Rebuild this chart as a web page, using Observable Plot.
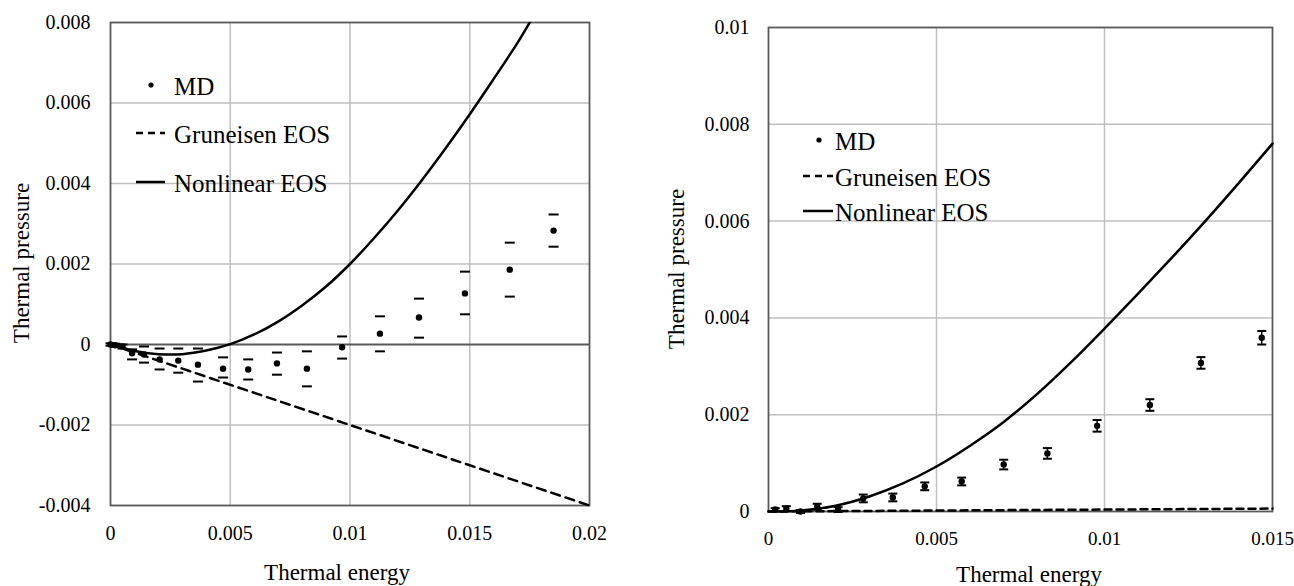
<!DOCTYPE html>
<html>
<head>
<meta charset="utf-8">
<script src="https://cdn.jsdelivr.net/npm/d3@7"></script>
<script src="https://cdn.jsdelivr.net/npm/@observablehq/plot@0.6"></script>
<style>
  html, body { margin: 0; padding: 0; background: #fff; }
  #wrap { position: relative; width: 1294px; height: 586px; overflow: hidden; }
  #wrap, #wrap svg, #wrap svg text { font-family: "Liberation Serif", "Times New Roman", Times, Tinos, "DejaVu Serif", serif !important; }
  #left, #right { position: absolute; top: 0; }
  #left { left: 0; }
  #right { left: 640px; }
  #overlay { position: absolute; left: 0; top: 0; pointer-events: none; }
</style>
</head>
<body>
<div id="wrap">
  <div id="left"></div>
  <div id="right"></div>
</div>
<script>
// ---------- Left chart data ----------
const leftXTicks = [0, 0.005, 0.01, 0.015, 0.02];
const leftYTicks = [-0.004, -0.002, 0, 0.002, 0.004, 0.006, 0.008];

const mdLeftX  = [0, 0.0002, 0.0005, 0.0009, 0.0014, 0.00205, 0.00283, 0.00365, 0.0047, 0.00575, 0.00695, 0.0082, 0.00967, 0.01125, 0.01288, 0.0148, 0.01667, 0.0185];
const mdLeftY  = [0, -0.00002, -0.00005, -0.00022, -0.00025, -0.00037, -0.0004, -0.0005, -0.0006, -0.00062, -0.00047, -0.0006, -0.00007, 0.00027, 0.00067, 0.00127, 0.00186, 0.00283];
const mdLeftHi = [0.00003, 0.00002, 0.0, -0.00012, -0.00005, -0.0001, -0.0001, -0.0001, -0.00032, -0.00037, -0.0002, -0.00017, 0.0002, 0.0007, 0.00114, 0.00181, 0.00253, 0.00323];
const mdLeftLo = [-0.00003, -0.00006, -0.0001, -0.00037, -0.00045, -0.00062, -0.0007, -0.00092, -0.00082, -0.00087, -0.00075, -0.00104, -0.00035, -0.00017, 0.00017, 0.00075, 0.00119, 0.00243];

const grunLeftX = [0, 0.02];
const grunLeftY = [0, -0.004];

const nonLeftX = [0, 0.001, 0.002, 0.003, 0.004, 0.005, 0.006, 0.007, 0.008, 0.009, 0.010, 0.011, 0.012, 0.013, 0.014, 0.015, 0.016, 0.017, 0.0176];
const nonLeftY = [0, -0.00016, -0.00024, -0.00024, -0.00015, 0.00001, 0.00025, 0.00057, 0.00097, 0.00144, 0.0020, 0.00264, 0.00333, 0.00408, 0.00488, 0.00572, 0.0066, 0.0075, 0.0081];

// ---------- Right chart data ----------
const rightXTicks = [0, 0.005, 0.01, 0.015];
const rightYTicks = [0, 0.002, 0.004, 0.006, 0.008, 0.01];

const mdRightX   = [0.0002, 0.00053, 0.00095, 0.00145, 0.00207, 0.00282, 0.0037, 0.00465, 0.00575, 0.007, 0.0083, 0.00978, 0.01135, 0.01287, 0.01468];
const mdRightY   = [0.00004, 0.00006, 0.0, 0.0001, 0.00004, 0.00027, 0.00029, 0.00052, 0.00062, 0.00097, 0.0012, 0.00177, 0.0022, 0.00307, 0.00359];
const mdRightErr = [0.00003, 0.00005, 0.00003, 0.00006, 0.00005, 0.00008, 0.00008, 0.00008, 0.00008, 0.0001, 0.00011, 0.00012, 0.00012, 0.00012, 0.00014];

const grunRightX = [0, 0.015];
const grunRightY = [0, 0.00006];

const nonRightX = [0, 0.001, 0.002, 0.003, 0.004, 0.005, 0.006, 0.007, 0.008, 0.009, 0.010, 0.011, 0.012, 0.013, 0.014, 0.015];
const nonRightY = [0, 0.00002, 0.00012, 0.00031, 0.00058, 0.00093, 0.00136, 0.00185, 0.00243, 0.00308, 0.00378, 0.0045, 0.00524, 0.006, 0.00679, 0.0076];

// ---------- helpers ----------
const zip = (xs, ys) => xs.map((x, i) => ({x, y: ys[i]}));
const fmt = d => d === 0 ? "0" : String(+d.toFixed(4));
const dashSym = { draw(ctx, size) { const r = Math.sqrt(size / Math.PI); ctx.moveTo(-r, 0); ctx.lineTo(r, 0); } };

const gridColor = "#bfbfbf";
const frameColor = "#595959";
const font = '"Liberation Serif", "Times New Roman", Times, Tinos, "DejaVu Serif", serif';

const mdLeft = mdLeftX.map((x, i) => ({x, y: mdLeftY[i], hi: mdLeftHi[i], lo: mdLeftLo[i]}));
const mdRight = mdRightX.map((x, i) => ({x, y: mdRightY[i], hi: mdRightY[i] + mdRightErr[i], lo: mdRightY[i] - mdRightErr[i]}));

const leftPlot = Plot.plot({
  width: 640, height: 586,
  marginLeft: 110, marginRight: 51, marginTop: 22, marginBottom: 81,
  style: {fontFamily: font, fontSize: "20px", color: "#000", background: "transparent", overflow: "visible"},
  x: {domain: [0, 0.02]},
  y: {domain: [-0.004, 0.008]},
  marks: [
    Plot.gridX({ticks: [0.005, 0.01, 0.015], stroke: gridColor, strokeOpacity: 1, strokeWidth: 1.5}),
    Plot.gridY({ticks: [-0.002, 0.002, 0.004, 0.006], stroke: gridColor, strokeOpacity: 1, strokeWidth: 1.5}),
    Plot.ruleY([0], {stroke: frameColor, strokeWidth: 1.8}),
    Plot.frame({stroke: frameColor, strokeWidth: 1.8}),
    Plot.axisX({ticks: leftXTicks, tickSize: 0, tickPadding: 20, tickFormat: fmt, label: null, fontSize: 20}),
    Plot.axisY({ticks: leftYTicks, tickSize: 0, tickPadding: 20, tickFormat: fmt, label: null, fontSize: 20}),
    Plot.line(zip(grunLeftX, grunLeftY), {x: "x", y: "y", stroke: "#000", strokeWidth: 2.5, strokeDasharray: "9,6"}),
    Plot.line(zip(nonLeftX, nonLeftY), {x: "x", y: "y", stroke: "#000", strokeWidth: 2.5, curve: "catmull-rom", clip: true}),
    Plot.dot(mdLeft, {x: "x", y: "hi", symbol: dashSym, r: 5, fill: "none", stroke: "#000", strokeWidth: 2}),
    Plot.dot(mdLeft, {x: "x", y: "lo", symbol: dashSym, r: 5, fill: "none", stroke: "#000", strokeWidth: 2}),
    Plot.dot(mdLeft, {x: "x", y: "y", r: 3.2, fill: "#000", stroke: "none"})
  ]
});
document.getElementById("left").appendChild(leftPlot);

const rightPlot = Plot.plot({
  width: 654, height: 586,
  marginLeft: 128, marginRight: 22, marginTop: 27, marginBottom: 75,
  style: {fontFamily: font, fontSize: "20px", color: "#000", background: "transparent", overflow: "visible"},
  x: {domain: [0, 0.015]},
  y: {domain: [0, 0.01]},
  marks: [
    Plot.gridX({ticks: [0.005, 0.01], stroke: gridColor, strokeOpacity: 1, strokeWidth: 1.5}),
    Plot.gridY({ticks: [0.002, 0.004, 0.006, 0.008], stroke: gridColor, strokeOpacity: 1, strokeWidth: 1.5}),
    Plot.frame({stroke: frameColor, strokeWidth: 1.8}),
    Plot.axisX({ticks: rightXTicks, tickSize: 0, tickPadding: 20, tickFormat: fmt, label: null, fontSize: 19}),
    Plot.axisY({ticks: rightYTicks, tickSize: 0, tickPadding: 19, tickFormat: fmt, label: null, fontSize: 20}),
    Plot.line(zip(grunRightX, grunRightY), {x: "x", y: "y", stroke: "#000", strokeWidth: 2.5, strokeDasharray: "7,5"}),
    Plot.line(zip(nonRightX, nonRightY), {x: "x", y: "y", stroke: "#000", strokeWidth: 2.5, curve: "catmull-rom"}),
    Plot.ruleX(mdRight, {x: "x", y1: "lo", y2: "hi", stroke: "#000", strokeWidth: 1.5}),
    Plot.dot(mdRight, {x: "x", y: "hi", symbol: dashSym, r: 4.5, fill: "none", stroke: "#000", strokeWidth: 2}),
    Plot.dot(mdRight, {x: "x", y: "lo", symbol: dashSym, r: 4.5, fill: "none", stroke: "#000", strokeWidth: 2}),
    Plot.dot(mdRight, {x: "x", y: "y", r: 3.2, fill: "#000", stroke: "none"})
  ]
});
document.getElementById("right").appendChild(rightPlot);

// ---------- titles and legends (overlay) ----------
const NS = "http://www.w3.org/2000/svg";
const ov = document.createElementNS(NS, "svg");
ov.setAttribute("id", "overlay");
ov.setAttribute("width", 1294);
ov.setAttribute("height", 586);
ov.style.fontFamily = font;
document.getElementById("wrap").appendChild(ov);

function txt(s, x, y, size, opts = {}) {
  const t = document.createElementNS(NS, "text");
  t.textContent = s;
  t.setAttribute("x", x); t.setAttribute("y", y);
  t.setAttribute("font-size", size);
  t.setAttribute("fill", "#000");
  t.setAttribute("dominant-baseline", "central");
  t.setAttribute("text-anchor", opts.anchor || "start");
  if (opts.rotate) t.setAttribute("transform", `rotate(-90 ${x} ${y})`);
  ov.appendChild(t);
}
function seg(x1, y, x2, dash) {
  const l = document.createElementNS(NS, "line");
  l.setAttribute("x1", x1); l.setAttribute("x2", x2);
  l.setAttribute("y1", y); l.setAttribute("y2", y);
  l.setAttribute("stroke", "#000"); l.setAttribute("stroke-width", 2.5);
  if (dash) l.setAttribute("stroke-dasharray", dash);
  ov.appendChild(l);
}
function dot(x, y) {
  const c = document.createElementNS(NS, "circle");
  c.setAttribute("cx", x); c.setAttribute("cy", y); c.setAttribute("r", 2.6);
  c.setAttribute("fill", "#000");
  ov.appendChild(c);
}

const legendLabels = ["MD", "Gruneisen EOS", "Nonlinear EOS"];
const axisTitles = ["Thermal pressure", "Thermal energy"];

// left chart
txt(axisTitles[0], 21, 263, 23, {anchor: "middle", rotate: true});
txt(axisTitles[1], 337, 572, 23, {anchor: "middle"});
dot(151, 85);
seg(136, 133, 165, "7,5");
seg(136, 182, 165);
txt(legendLabels[0], 174, 86, 25);
txt(legendLabels[1], 174, 134, 25);
txt(legendLabels[2], 174, 183, 25);

// right chart
txt(axisTitles[0], 676, 269, 23, {anchor: "middle", rotate: true});
txt(axisTitles[1], 1029, 574, 23, {anchor: "middle"});
dot(819, 140);
seg(803, 176, 833, "7,5");
seg(803, 211, 833);
txt(legendLabels[0], 835, 141, 25);
txt(legendLabels[1], 835, 177, 25);
txt(legendLabels[2], 835, 212, 25);
</script>
</body>
</html>
